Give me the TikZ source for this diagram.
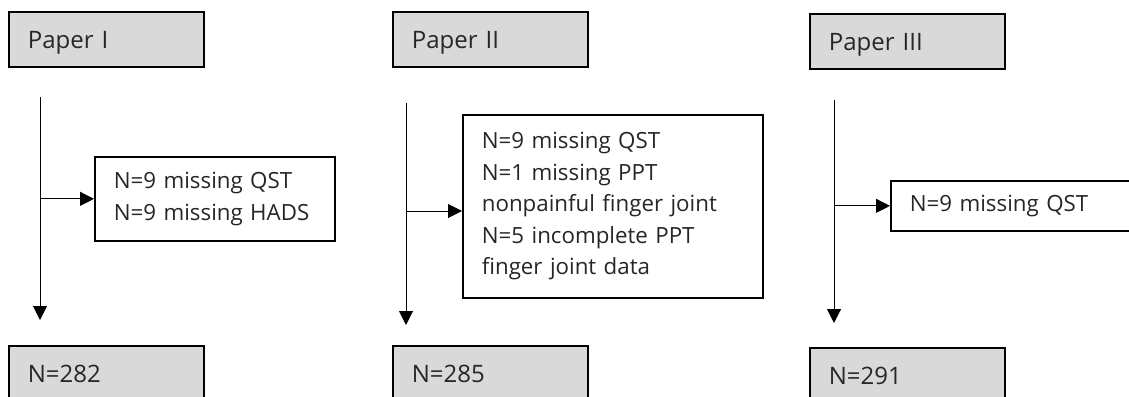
\documentclass[tikz,border=0pt]{standalone}
\usepackage{fontspec}
\setmainfont{Open Sans}
\usetikzlibrary{arrows.meta}
\definecolor{boxgray}{HTML}{D9D9D9}
\definecolor{txt}{HTML}{262626}
\begin{document}
\begin{tikzpicture}[x=1pt,y=-1pt,
  graybox/.style={draw=black,line width=1.7pt,fill=boxgray,anchor=north west,
    minimum width=195pt,minimum height=55pt,text width=157pt,inner xsep=19pt,inner ysep=0pt,
    align=left,text=txt,font=\fontsize{24}{30}\selectfont,text height=18pt,text depth=0pt},
  sidebox/.style={draw=black,line width=1.7pt,fill=white,anchor=north west,
    inner xsep=19pt,inner ysep=0pt,align=left,text=txt,font=\fontsize{22.3}{31.5}\selectfont},
  conn/.style={line width=1pt,-{Triangle[width=14pt,length=14pt]}}]
\fill[white] (0,0) rectangle (1129,396);
\useasboundingbox (0,0) rectangle (1129,396);

% top boxes
\node[graybox] (t1) at (8,11) {Paper I};
\node[graybox] (t2) at (392,11) {Paper II};
\node[graybox] (t3) at (809,13) {Paper III};
% bottom boxes
\node[graybox] (r1) at (8,345) {N=282};
\node[graybox] (r2) at (392,345) {N=285};
\node[graybox] (r3) at (809,347) {N=291};
% side boxes
\node[sidebox,minimum width=240pt,minimum height=84pt,text width=202pt] (s1) at (94,156)
  {N=9 missing QST\\N=9 missing HADS};
\node[sidebox,minimum width=300pt,minimum height=183pt,text width=262pt] (s2) at (462,114)
  {N=9 missing QST\\N=1 missing PPT\\nonpainful finger joint\\N=5 incomplete PPT\\finger joint data};
\node[sidebox,minimum width=260pt,minimum height=50pt,text width=222pt] (s3) at (890,180)
  {N=9 missing QST};

% connectors
\coordinate (a1) at (40,97);  \coordinate (b1) at (40,320);
\coordinate (a2) at (406,103); \coordinate (b2) at (406,325); \coordinate (h2) at (406,211);
\coordinate (a3) at (834,100); \coordinate (b3) at (834,323);
\draw[conn] (a1) -- (b1);
\draw[conn] (a2) -- (b2);
\draw[conn] (a3) -- (b3);
\draw[conn] (a1 |- s1.west) -- (s1.west);
\draw[conn] (h2) -- (h2 -| s2.west);
\draw[conn] (a3 |- s3.west) -- (s3.west);
\end{tikzpicture}
\end{document}
